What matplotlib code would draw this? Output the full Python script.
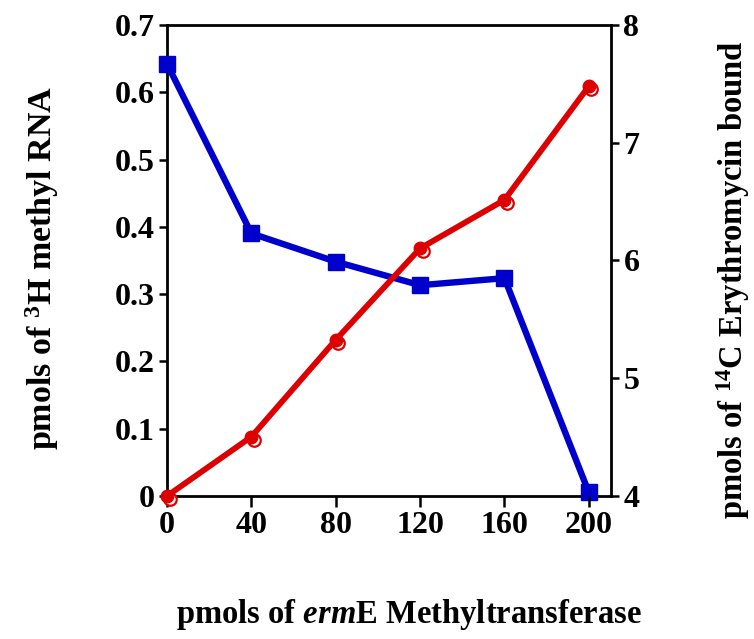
import matplotlib
matplotlib.use("Agg")
import matplotlib.pyplot as plt
import matplotlib.transforms as mtransforms

plt.rcParams['font.family'] = 'Liberation Serif'
plt.rcParams['font.weight'] = 'bold'
plt.rcParams['mathtext.fontset'] = 'custom'
plt.rcParams['mathtext.rm'] = 'Liberation Serif:bold'
plt.rcParams['mathtext.bf'] = 'Liberation Serif:bold'
plt.rcParams['mathtext.it'] = 'Liberation Serif:italic'

# enzyme added (pmol)
enzyme = [0, 40, 80, 120, 160, 200]
# 3H methyl incorporated into RNA (pmol), left axis
methyl_rna = [0.0, 0.088, 0.232, 0.368, 0.440, 0.609]
# 14C erythromycin bound (pmol), right axis
ery_bound = [7.67, 6.23, 5.99, 5.79, 5.85, 4.03]

x_ticks = [0, 40, 80, 120, 160, 200]
left_ticks = [0, 0.1, 0.2, 0.3, 0.4, 0.5, 0.6, 0.7]
left_labels = ['0', '0.1', '0.2', '0.3', '0.4', '0.5', '0.6', '0.7']
right_ticks = [4, 5, 6, 7, 8]

red = '#dd0000'
blue = '#0000cc'

fig = plt.figure(figsize=(7.54, 6.39), dpi=100)
ax = fig.add_axes([0.2215, 0.2238, 0.5888, 0.7371])
ax2 = ax.twinx()
ax.set_zorder(ax2.get_zorder() + 1)
ax.patch.set_visible(False)

# erythromycin binding (squares)
ax2.plot(enzyme, ery_bound, color=blue, lw=4.6, marker='s', ms=11.5,
         mfc=blue, mec=blue, clip_on=False, zorder=3)

# methylation (filled circle with a slightly shifted open circle)
ax.plot(enzyme, methyl_rna, color=red, lw=4.2, marker='o', ms=9,
        mfc=red, mec=red, clip_on=False, zorder=3)
shift = mtransforms.ScaledTranslation(2.5 / 100, -3.0 / 100, fig.dpi_scale_trans)
ax.plot(enzyme, methyl_rna, ls='none', marker='o', ms=9, mfc='white',
        mec=red, mew=1.6, clip_on=False, zorder=2,
        transform=ax.transData + shift)

ax.set_xlim(0, 210.5)
ax.set_ylim(0, 0.7)
ax2.set_ylim(4, 8)

ax.set_xticks(x_ticks)
ax.set_yticks(left_ticks)
ax.set_yticklabels(left_labels)
ax2.set_yticks(right_ticks)

for s in ax.spines.values():
    s.set_visible(False)
for s in ax2.spines.values():
    s.set_linewidth(2.0)
    s.set_color('black')

ax.tick_params(axis='y', direction='out', length=6, width=1.8, labelsize=23, pad=3)
ax.tick_params(axis='x', direction='out', length=8, width=1.8, labelsize=23, pad=3)
ax2.tick_params(axis='y', direction='out', length=6, width=1.8, labelsize=23, pad=3)

fig.text(42 / 754, 1 - 268 / 639, r'pmols of $^{3}$H methyl RNA',
         rotation=90, ha='center', va='center', fontsize=24.5, fontweight='bold')
fig.text(733 / 754, 1 - 280 / 639, r'pmols of $^{14}$C Erythromycin bound',
         rotation=90, ha='center', va='center', fontsize=23.5, fontweight='bold')
fig.text(409 / 754, 1 - 615 / 639, r'pmols of $\mathit{erm}$E Methyltransferase',
         ha='center', va='center', fontsize=23.5, fontweight='bold')

fig.savefig('out.png', dpi=100)
